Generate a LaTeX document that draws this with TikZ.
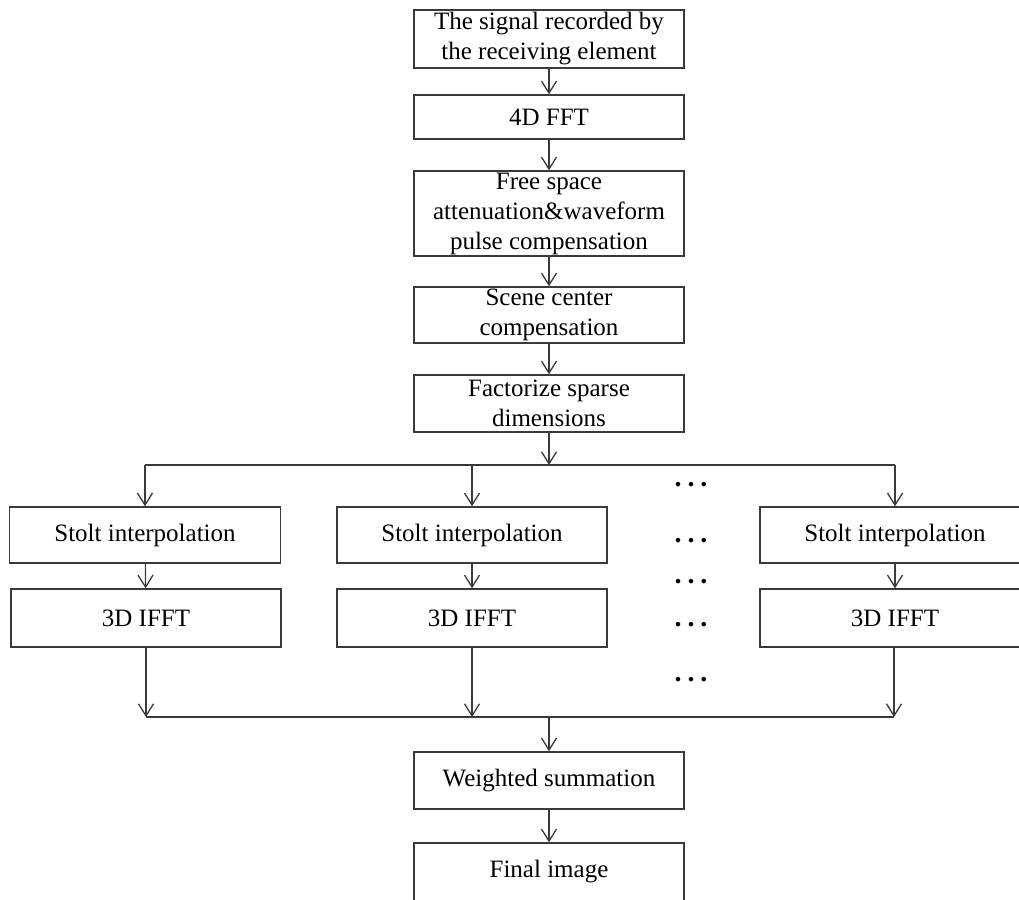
\documentclass[tikz,border=0pt]{standalone}
\usepackage{fontspec}
\setmainfont{Liberation Serif}
\usetikzlibrary{arrows.meta}
\definecolor{linecol}{HTML}{3A3A3A}
\begin{document}
\begin{tikzpicture}[x=1pt,y=-1pt,
  box/.style={draw=linecol, line width=1.4pt, inner sep=0pt, align=center,
    minimum width=270pt, font=\fontsize{25}{30}\selectfont, text=black},
  arr/.style={draw=linecol, line width=1.2pt, -{Straight Barb[length=12pt,width=15pt,line width=1.3pt]}},
  ln/.style={draw=linecol, line width=1.2pt},
  dotsnode/.style={font=\fontsize{28}{30}\selectfont\bfseries, anchor=base, inner sep=0pt}]
\clip (0,0) rectangle (1019,899);
\useasboundingbox (0,0) rectangle (1019,899);

\node[box, minimum height=58pt] (n1) at (549,39) {The signal recorded by\\the receiving element};
\node[box, minimum height=44pt] (n2) at (549,117) {4D FFT};
\node[box, minimum height=85pt] (n3) at (549,213.5) {Free space\\attenuation\&waveform\\pulse compensation};
\node[box, minimum height=56pt] (n4) at (549,315) {Scene center\\compensation};
\node[box, minimum height=57pt] (n5) at (549,403.5) {Factorize sparse\\dimensions};

\node[box, minimum width=271pt, minimum height=56pt] (s1) at (145,535) {Stolt interpolation};
\node[box, minimum height=58pt] (f1) at (146,618) {3D IFFT};
\node[box, minimum height=56pt] (s2) at (472,535) {Stolt interpolation};
\node[box, minimum height=58pt] (f2) at (472,618) {3D IFFT};
\node[box, minimum height=56pt] (s3) at (895,535) {Stolt interpolation};
\node[box, minimum height=58pt] (f3) at (895,618) {3D IFFT};

\node[box, minimum height=57pt] (w) at (549,780.5) {Weighted summation};
\node[box, minimum height=58pt] (fin) at (549,872) {Final image};

\node[dotsnode] (d1) at (691,486.5) {.\hspace{6pt}.\hspace{6pt}.};
\node[dotsnode] (d2) at (691,542.5) {.\hspace{6pt}.\hspace{6pt}.};
\node[dotsnode] (d3) at (691,583.5) {.\hspace{6pt}.\hspace{6pt}.};
\node[dotsnode] (d4) at (691,626.5) {.\hspace{6pt}.\hspace{6pt}.};
\node[dotsnode] (d5) at (691,681.5) {.\hspace{6pt}.\hspace{6pt}.};

\coordinate (split) at (549,465);
\coordinate (sl) at (145,465);
\coordinate (sr) at (895,465);
\coordinate (merge) at (549,717);
\coordinate (ml) at (146,717);
\coordinate (mr) at (894,717);

\draw[arr] (n1) -- (n2);
\draw[arr] (n2) -- (n3);
\draw[arr] (n3) -- (n4);
\draw[arr] (n4) -- (n5);
\draw[arr] (n5) -- (split);
\draw[ln] (sl) -- (sr);
\draw[arr] (sl) -- (s1.north);
\draw[arr] (s2.north |- split) -- (s2.north);
\draw[arr] (sr) -- (s3.north);
\draw[arr] (s1) -- (f1);
\draw[arr] (s2) -- (f2);
\draw[arr] (s3) -- (f3);
\draw[arr] (f1.south) -- (f1.south |- merge);
\draw[arr] (f2.south) -- (f2.south |- merge);
\draw[arr] (f3.south -| mr) -- (mr);
\draw[ln] (ml) -- (mr);
\draw[arr] (merge) -- (w);
\draw[arr] (w) -- (fin);
\end{tikzpicture}
\end{document}
